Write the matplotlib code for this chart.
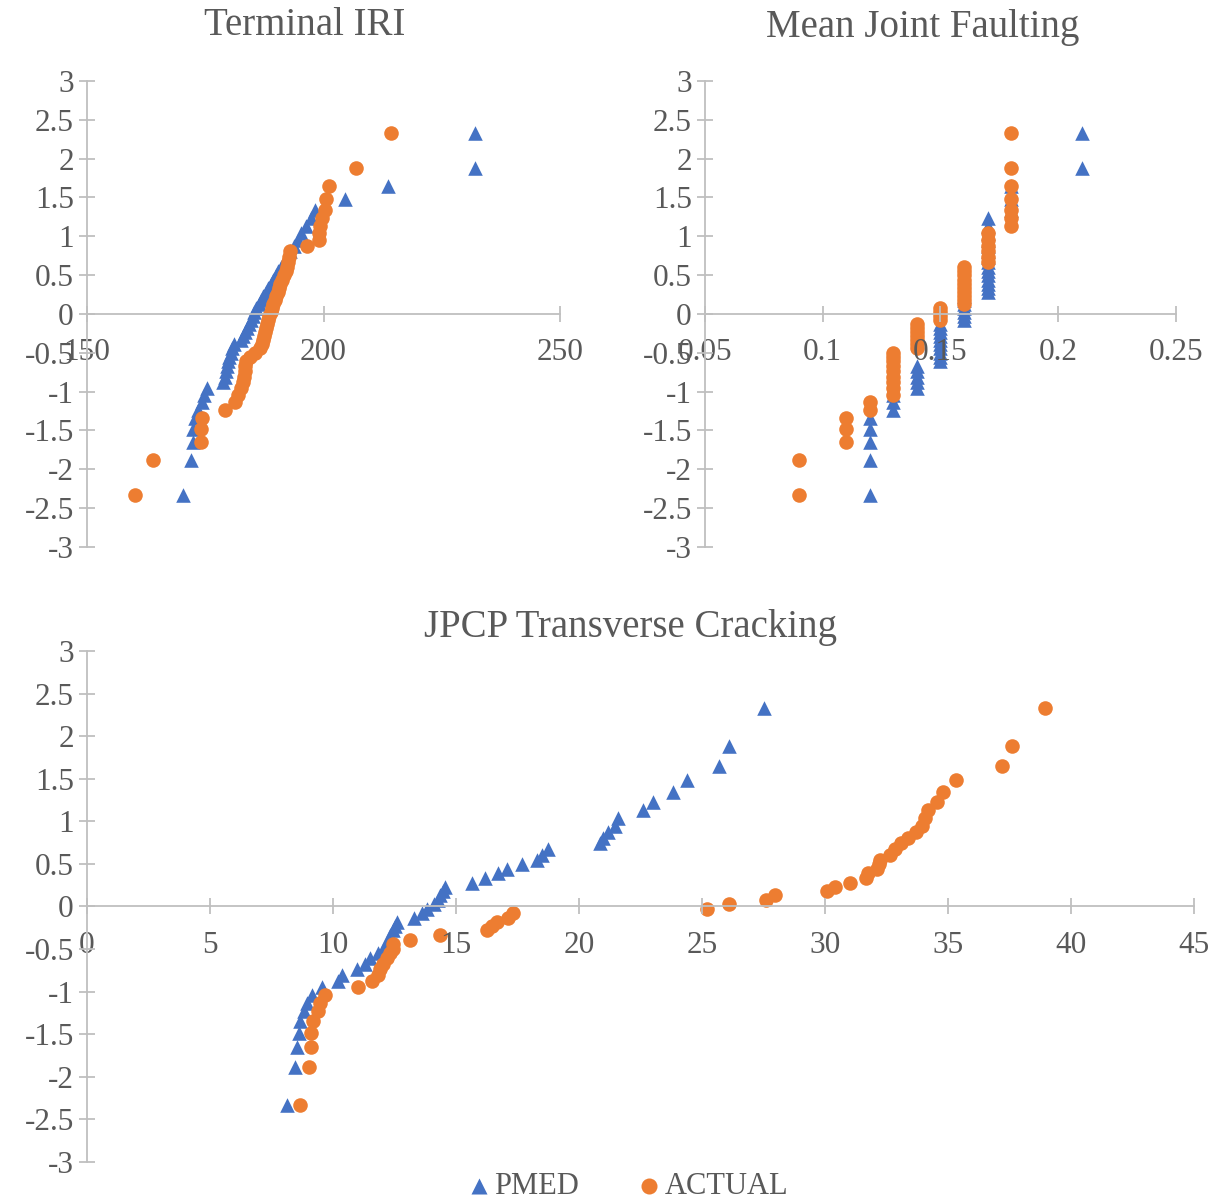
import matplotlib
matplotlib.use("Agg")
import matplotlib.pyplot as plt

plt.rcParams['font.family'] = ['Liberation Serif', 'DejaVu Serif']

# normal scores (shared by every series, 50 ranks)
z = [-2.33, -1.88, -1.65, -1.48, -1.34, -1.23, -1.13, -1.04, -0.95, -0.88,
     -0.81, -0.74, -0.67, -0.61, -0.55, -0.50, -0.44, -0.39, -0.33, -0.28,
     -0.23, -0.18, -0.13, -0.08, -0.03, 0.03, 0.08, 0.13, 0.18, 0.23,
     0.28, 0.33, 0.39, 0.44, 0.50, 0.55, 0.61, 0.67, 0.74, 0.81,
     0.88, 0.95, 1.04, 1.13, 1.23, 1.34, 1.48, 1.65, 1.88, 2.33]

iri_pmed = [170.2, 171.9, 172.3, 172.5, 172.9, 173.5, 174.2, 174.8, 175.3, 178.8,
            179.1, 179.3, 179.6, 179.8, 180.1, 180.4, 180.7, 181.0, 182.6, 183.0,
            183.4, 183.8, 184.2, 184.6, 185.0, 185.4, 185.8, 186.3, 186.8, 187.3,
            187.8, 188.3, 188.9, 189.4, 189.9, 190.4, 191.0, 191.6, 192.3, 193.0,
            193.8, 194.5, 195.3, 196.3, 197.3, 198.3, 204.5, 213.6, 232.1, 232.1]
iri_actual = [160.1, 163.9, 174.0, 174.1, 174.2, 179.1, 181.2, 182.0, 182.6, 182.9,
              183.1, 183.3, 183.5, 183.7, 184.5, 185.5, 186.5, 187.0, 187.3, 187.5,
              187.7, 187.9, 188.1, 188.3, 188.5, 188.8, 189.1, 189.4, 189.7, 190.0,
              190.3, 190.6, 190.9, 191.2, 191.6, 192.0, 192.3, 192.5, 192.7, 192.9,
              196.5, 199.0, 199.1, 199.3, 199.7, 200.3, 200.6, 201.2, 206.8, 214.2]

fault_pmed = ([0.12] * 5 + [0.13] * 3 + [0.14] * 5 + [0.15] * 10 + [0.16] * 7
              + [0.17] * 15 + [0.18] * 3 + [0.21] * 2)
fault_actual = ([0.09] * 2 + [0.11] * 3 + [0.12] * 2 + [0.13] * 9 + [0.14] * 7
                + [0.15] * 4 + [0.16] * 10 + [0.17] * 6 + [0.18] * 7)

crack_pmed = [8.12, 8.46, 8.52, 8.62, 8.66, 8.8, 8.93, 9.13, 9.54, 10.2,
              10.35, 10.96, 11.3, 11.5, 11.83, 12.03, 12.18, 12.24, 12.32, 12.45,
              12.52, 12.59, 13.3, 13.6, 13.8, 14.1, 14.25, 14.35, 14.45, 14.55,
              15.64, 16.18, 16.7, 17.06, 17.67, 18.28, 18.48, 18.74, 20.85, 20.98,
              21.18, 21.46, 21.6, 22.6, 23.0, 23.8, 24.4, 25.7, 26.1, 27.5]
crack_actual = [8.66, 9.03, 9.09, 9.09, 9.2, 9.4, 9.47, 9.67, 11.0, 11.57,
                11.83, 11.9, 12.03, 12.18, 12.3, 12.45, 12.45, 13.13, 14.35, 16.25,
                16.45, 16.65, 17.1, 17.33, 25.2, 26.1, 27.6, 27.97, 30.07, 30.4,
                31.0, 31.67, 31.75, 32.1, 32.2, 32.24, 32.65, 32.85, 33.1, 33.38,
                33.7, 33.93, 34.07, 34.2, 34.54, 34.8, 35.33, 37.18, 37.6, 38.95]

blue = '#4472C4'
orange = '#ED7D31'
grey = '#595959'
line = '#BFBFBF'

fig = plt.figure(figsize=(12.14, 12), dpi=100)


def panel(rect, xlim, xticks, xlabels, pmed, actual, title, tx, ty):
    ax = fig.add_axes(rect)
    ax.scatter(pmed, z, marker='^', s=110, color=blue, linewidths=0, label='PMED')
    ax.scatter(actual, z, marker='o', s=110, color=orange, linewidths=0, label='ACTUAL')
    ax.set_xlim(*xlim)
    ax.set_ylim(-3, 3)
    ax.set_yticks([-3, -2.5, -2, -1.5, -1, -0.5, 0, 0.5, 1, 1.5, 2, 2.5, 3])
    ax.set_yticklabels(['-3', '-2.5', '-2', '-1.5', '-1', '-0.5', '0', '0.5', '1',
                        '1.5', '2', '2.5', '3'])
    ax.set_xticks(xticks)
    ax.set_xticklabels(xlabels)
    for s in ['top', 'right']:
        ax.spines[s].set_visible(False)
    ax.spines['bottom'].set_position(('data', 0))
    ax.spines['bottom'].set_color(line)
    ax.spines['left'].set_color(line)
    ax.spines['bottom'].set_linewidth(1.3)
    ax.spines['left'].set_linewidth(1.3)
    ax.tick_params(axis='both', direction='inout', length=11, width=1.3,
                   color=line, labelcolor=grey, labelsize=22.5)
    ax.tick_params(axis='x', pad=12)
    ax.tick_params(axis='y', pad=4)
    ax.patch.set_alpha(0)
    fig.text(tx, ty, title, ha='center', va='center', fontsize=28, color=grey)
    return ax


panel([0.0717, 0.5442, 0.3896, 0.3883], (150, 250), [150, 200, 250],
      ['150', '200', '250'], iri_pmed, iri_actual, 'Terminal IRI', 0.251, 0.979)
panel([0.5807, 0.5442, 0.388, 0.3883], (0.05, 0.25), [0.05, 0.1, 0.15, 0.2, 0.25],
      ['0.05', '0.1', '0.15', '0.2', '0.25'], fault_pmed, fault_actual,
      'Mean Joint Faulting', 0.760, 0.977)
ax3 = panel([0.0717, 0.0317, 0.912, 0.4258], (0, 45), list(range(0, 50, 5)),
            [str(v) for v in range(0, 50, 5)], crack_pmed, crack_actual,
            'JPCP Transverse Cracking', 0.519, 0.4775)

h, l = ax3.get_legend_handles_labels()
fig.legend(h, l, loc='center', bbox_to_anchor=(0.518, 0.011), ncol=2,
           frameon=False, fontsize=22, labelcolor=grey, handletextpad=0.2,
           handlelength=0.6, columnspacing=2.0, markerscale=1.1)

fig.savefig('out.png', dpi=100)
